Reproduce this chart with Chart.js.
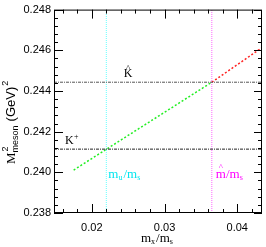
<!DOCTYPE html>
<html>
<head>
<meta charset="utf-8">
<script src="https://cdn.jsdelivr.net/npm/chart.js@4.4.0/dist/chart.umd.min.js"></script>
<style>
  html, body { margin: 0; padding: 0; background: #fff; }
  #wrap { width: 266px; height: 247px; position: relative; }
</style>
</head>
<body>
<div id="wrap"><canvas id="c"></canvas></div>
<script>
// values
const greenX = [0.0175, 0.0365];
const greenY = [0.24011, 0.24443];
const redX = [0.0365, 0.0434];
const redY = [0.24443, 0.24613];
const kHat = 0.24443;      // K hat level
const kPlus = 0.24114;     // K+ level
const muOverMs = 0.022;    // m_u/m_s
const mhatOverMs = 0.0365; // m^/m_s
const xRange = [0.0148, 0.0434];
const yRange = [0.238, 0.248];
const xMajorTicks = [0.02, 0.03, 0.04];
const xMinorTicks = [0.016, 0.018, 0.022, 0.024, 0.026, 0.028, 0.032, 0.034, 0.036, 0.038, 0.042];
const yMajorTicks = [0.238, 0.240, 0.242, 0.244, 0.246, 0.248];
const yMinorStep = 0.0004;

function pts(xs, ys) {
    return xs.map((x, i) => ({ x: x, y: ys[i] }));
}

const framePlugin = {
    id: 'frame',
    afterDatasetsDraw(chart) {
        const ctx = chart.ctx;
        const a = chart.chartArea;
        const xs = chart.scales.x, ys = chart.scales.y;
        ctx.save();
        ctx.strokeStyle = '#000';
        ctx.lineWidth = 1;
        ctx.strokeRect(a.left + 0.5, a.top + 0.5, a.right - a.left - 1, a.bottom - a.top - 1);
        ctx.beginPath();
        // x ticks, bottom and top
        xMajorTicks.forEach(v => {
            const p = Math.round(xs.getPixelForValue(v)) + 0.5;
            ctx.moveTo(p, a.bottom); ctx.lineTo(p, a.bottom - 9);
            ctx.moveTo(p, a.top); ctx.lineTo(p, a.top + 9);
        });
        xMinorTicks.forEach(v => {
            const p = Math.round(xs.getPixelForValue(v)) + 0.5;
            ctx.moveTo(p, a.bottom); ctx.lineTo(p, a.bottom - 4);
            ctx.moveTo(p, a.top); ctx.lineTo(p, a.top + 4);
        });
        // y ticks, left and right
        yMajorTicks.forEach(v => {
            const p = Math.round(ys.getPixelForValue(v)) + 0.5;
            ctx.moveTo(a.left, p); ctx.lineTo(a.left + 9, p);
            ctx.moveTo(a.right, p); ctx.lineTo(a.right - 8, p);
        });
        for (let v = yRange[0]; v <= yRange[1] + 1e-9; v += yMinorStep) {
            const p = Math.round(ys.getPixelForValue(v)) + 0.5;
            ctx.moveTo(a.left, p); ctx.lineTo(a.left + 4, p);
            ctx.moveTo(a.right, p); ctx.lineTo(a.right - 4, p);
        }
        ctx.stroke();

        // labels
        const serif = '"Liberation Serif", "DejaVu Serif", serif';
        const sans = '"Liberation Sans", "DejaVu Sans", sans-serif';
        ctx.fillStyle = '#000';
        ctx.textBaseline = 'alphabetic';
        // K hat
        const hx = xs.getPixelForValue(0.0244), hy = ys.getPixelForValue(kHat) - 5;
        ctx.font = '12px ' + serif;
        ctx.fillText('K', hx, hy);
        const kw = ctx.measureText('K').width;
        ctx.textAlign = 'center';
        ctx.font = '9px ' + serif;
        ctx.fillText('^', hx + kw / 2, hy - 6);
        ctx.textAlign = 'left';
        // K+
        ctx.font = '12px ' + serif;
        const kx = xs.getPixelForValue(0.0163), ky = ys.getPixelForValue(kPlus) - 5;
        ctx.fillText('K', kx, ky);
        ctx.font = '8px ' + serif;
        ctx.fillText('+', kx + 9, ky - 5);

        function ratio(x, y, color, hat) {
            ctx.fillStyle = color;
            ctx.font = '13px ' + serif;
            ctx.fillText('m', x, y);
            let w = ctx.measureText('m').width;
            if (hat) {
                ctx.textAlign = 'center';
                ctx.font = '9px ' + serif;
                ctx.fillText('^', x + w / 2, y - 8);
                ctx.textAlign = 'left';
            } else {
                ctx.font = '8px ' + serif;
                ctx.fillText('u', x + w, y + 2);
                w += 5;
            }
            ctx.font = '13px ' + serif;
            ctx.fillText('/m', x + w, y);
            w += ctx.measureText('/m').width;
            ctx.font = '8px ' + serif;
            ctx.fillText('s', x + w, y + 2);
        }
        ratio(xs.getPixelForValue(muOverMs) + 2, 178, '#00e5ee', false);
        ratio(xs.getPixelForValue(mhatOverMs) + 4, 178, '#ff00ff', true);

        // x title
        ctx.fillStyle = '#000';
        ctx.font = '13px ' + serif;
        let tx = 141, ty = 242;
        ctx.fillText('m', tx, ty);
        let w = ctx.measureText('m').width;
        ctx.font = '8px ' + serif;
        ctx.fillText('x', tx + w, ty + 2);
        w += 5;
        ctx.font = '13px ' + serif;
        ctx.fillText('/m', tx + w, ty);
        w += ctx.measureText('/m').width;
        ctx.font = '8px ' + serif;
        ctx.fillText('s', tx + w, ty + 2);

        // y title, rotated
        ctx.save();
        ctx.translate(15, 164);
        ctx.rotate(-Math.PI / 2);
        ctx.font = '13px ' + serif;
        ctx.fillText('M', 0, 0);
        w = ctx.measureText('M').width;
        ctx.font = '9px ' + sans;
        ctx.fillText('2', w + 1, -7);
        ctx.fillText('meson', w, 3);
        w += ctx.measureText('meson').width + 4;
        ctx.font = '13px ' + sans;
        ctx.fillText('(GeV)', w, 0);
        w += ctx.measureText('(GeV)').width;
        ctx.font = '9px ' + sans;
        ctx.fillText('2', w + 1, -7);
        ctx.restore();
        ctx.restore();
    }
};

new Chart(document.getElementById('c'), {
    type: 'scatter',
    data: {
        datasets: [
            {
                data: pts(xRange, [kHat, kHat]),
                borderColor: '#555', borderWidth: 1, borderDash: [3, 1, 1, 1]
            },
            {
                data: pts(xRange, [kPlus, kPlus]),
                borderColor: '#222', borderWidth: 1, borderDash: [3, 1, 1, 1]
            },
            {
                data: pts([muOverMs, muOverMs], yRange),
                borderColor: '#7fffff', borderWidth: 1.2, borderDash: [1, 1]
            },
            {
                data: pts([mhatOverMs, mhatOverMs], yRange),
                borderColor: '#ff66ff', borderWidth: 1, borderDash: [1, 1]
            },
            {
                data: pts(greenX, greenY),
                borderColor: '#22ee22', borderWidth: 1.5, borderDash: [2, 2]
            },
            {
                data: pts(redX, redY),
                borderColor: '#ff2020', borderWidth: 1.5, borderDash: [2, 2]
            }
        ].map(d => Object.assign(d, { showLine: true, pointRadius: 0, fill: false }))
    },
    options: {
        responsive: true,
        maintainAspectRatio: false,
        animation: false,
        layout: { padding: { left: 0, right: 4, top: 4, bottom: 0 } },
        scales: {
            x: {
                type: 'linear',
                min: xRange[0],
                max: xRange[1],
                afterBuildTicks: scale => { scale.ticks = xMajorTicks.map(v => ({ value: v })); },
                afterFit: scale => { scale.height = 34; },
                grid: { display: false, drawTicks: false },
                border: { display: false },
                ticks: {
                    padding: 8,
                    color: '#000',
                    maxRotation: 0,
                    font: { family: 'Liberation Sans', size: 11 },
                    callback: v => v.toFixed(2)
                }
            },
            y: {
                type: 'linear',
                min: yRange[0],
                max: yRange[1],
                afterBuildTicks: scale => { scale.ticks = yMajorTicks.map(v => ({ value: v })); },
                afterFit: scale => { scale.width = 54; },
                grid: { display: false, drawTicks: false },
                border: { display: false },
                ticks: {
                    padding: 3,
                    color: '#000',
                    font: { family: 'Liberation Sans', size: 11 },
                    callback: v => v.toFixed(3)
                }
            }
        },
        plugins: {
            legend: { display: false },
            tooltip: { enabled: false }
        }
    },
    plugins: [framePlugin]
});
</script>
</body>
</html>
